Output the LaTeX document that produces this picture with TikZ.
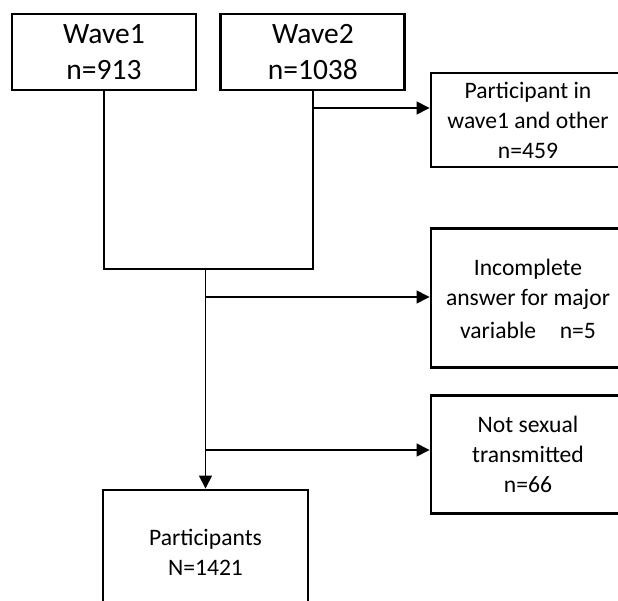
\documentclass[tikz,border=0pt]{standalone}
\usepackage{fontspec}
\setmainfont{Carlito}
\usetikzlibrary{arrows.meta,positioning}
\tikzset{
  wavebox/.style={draw=black, line width=2.9pt, align=center, inner sep=0pt,
    minimum width=184pt, minimum height=76pt, font=\fontsize{29.5}{36}\selectfont},
  exclbox/.style={draw=black, line width=2.9pt, align=center, inner sep=0pt,
    minimum width=194pt, font=\fontsize{23.6}{30}\selectfont},
  finalbox/.style={draw=black, line width=2.9pt, align=center, inner sep=0pt,
    minimum width=205pt, minimum height=124pt, font=\fontsize{23.6}{30}\selectfont},
  wire/.style={draw=black, line width=1.4pt},
  arrowwire/.style={wire, -{Triangle[length=13pt,width=13pt]}}
}

\begin{document}
\begin{tikzpicture}[x=1pt, y=-1pt]
  \useasboundingbox (0,0) rectangle (618,601);
  \clip (0,0) rectangle (618,601);
  % waves
  \node[wavebox] (wave1) at (104,52) {Wave1\\n=913};
  \node[wavebox, right=22pt of wave1] (wave2) {Wave2\\n=1038};
  % exclusions
  \node[exclbox, minimum height=94pt] (overlap) at (528,120)
    {Participant in\\wave1 and other\\n=459};
  \node[exclbox, minimum height=139pt, below=59pt of overlap] (incomplete)
    {Incomplete\\answer for major\\[3pt]variable\quad n=5};
  \node[exclbox, minimum height=118pt, below=25pt of incomplete] (notsexual)
    {Not sexual\\transmitted\\n=66};
  % final sample
  \node[finalbox] (participants) at (205.5,552) {Participants\\N=1421};
  \coordinate (merge) at (participants.north |- 0,269);
  \coordinate (tap1) at (wave2.south |- 0,108);
  \coordinate (tap2) at (merge |- 0,297);
  \coordinate (tap3) at (merge |- 0,450);
  \draw[wire] (wave1.south) |- (merge) -| (wave2.south);
  \draw[arrowwire] (merge) -- (participants.north);
  \draw[arrowwire] (tap1) -- (tap1 -| overlap.west);
  \draw[arrowwire] (tap2) -- (tap2 -| incomplete.west);
  \draw[arrowwire] (tap3) -- (tap3 -| notsexual.west);
\end{tikzpicture}
\end{document}
